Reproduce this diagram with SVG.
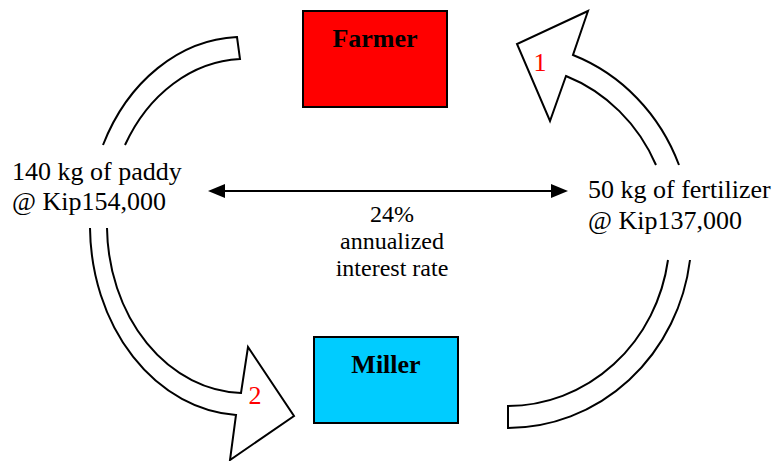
<svg xmlns="http://www.w3.org/2000/svg" width="777" height="461" viewBox="0 0 777 461">
  <style>
    .t { font-family: "Liberation Serif", "Times New Roman", serif; fill: #000; }
    .side { font-size: 26px; }
    .mid { font-size: 24px; text-anchor: middle; }
    .box { stroke: #000; stroke-width: 2; }
    .boxlabel { font-family: "Liberation Serif", "Times New Roman", serif; font-size: 26px; font-weight: bold; text-anchor: middle; fill: #000; }
    .band { fill: #fff; stroke: #000; stroke-width: 2; stroke-linejoin: miter; }
    .num { font-family: "Liberation Serif", "Times New Roman", serif; font-size: 26px; fill: #ff0000; text-anchor: middle; }
  </style>
  <defs>
    <marker id="ah" viewBox="0 0 17 14" refX="14" refY="7" markerWidth="17" markerHeight="14" orient="auto-start-reverse" markerUnits="userSpaceOnUse">
      <path d="M0,0 L17,7 L0,14 z" fill="#000"/>
    </marker>
  </defs>

  <g id="connectors">
    <g id="arrow-left">
      <path class="band" fill="none" d="M 103 145 A 155 190 0 0 1 237 37 L 240 59 A 138 168 0 0 0 125 145"/>
      <path class="band" d="M 90 228 A 155 190 0 0 0 236 415 L 230 460 L 294 416 L 248 347 L 241 393 A 138 168 0 0 1 107 228"/>
      <text class="num" x="255" y="404">2</text>
    </g>
    <g id="arrow-right">
      <path class="band" d="M 679 165 A 183.5 193 0 0 0 573 55 L 588 11 L 517 44 L 550 121 L 566 76 A 162 171 0 0 1 656 165"/>
      <path class="band" fill="none" d="M 690 260 A 183.5 193 0 0 1 508 428 L 508 406 A 162 171 0 0 0 668 260"/>
      <text class="num" x="540" y="71">1</text>
    </g>
    <line id="rate-arrow" x1="211" y1="191" x2="565" y2="191" stroke="#000" stroke-width="2" marker-start="url(#ah)" marker-end="url(#ah)"/>
  </g>

  <g id="farmer">
    <rect class="box" x="303" y="11" width="144" height="96" fill="#ff0000"/>
    <text class="boxlabel" x="375" y="47">Farmer</text>
  </g>

  <g id="miller">
    <rect class="box" x="314" y="337" width="144" height="86" fill="#00ccff"/>
    <text class="boxlabel" x="386" y="373">Miller</text>
  </g>

  <g id="label-paddy">
    <text class="t side" x="12" y="180">140 kg of paddy</text>
    <text class="t side" x="12" y="210">@ Kip154,000</text>
  </g>

  <g id="label-fertilizer">
    <text class="t side" x="588" y="198">50 kg of fertilizer</text>
    <text class="t side" x="588" y="229">@ Kip137,000</text>
  </g>

  <g id="label-rate">
    <text class="t mid" x="392" y="222">24%</text>
    <text class="t mid" x="392" y="249">annualized</text>
    <text class="t mid" x="392" y="276">interest rate</text>
  </g>
</svg>
